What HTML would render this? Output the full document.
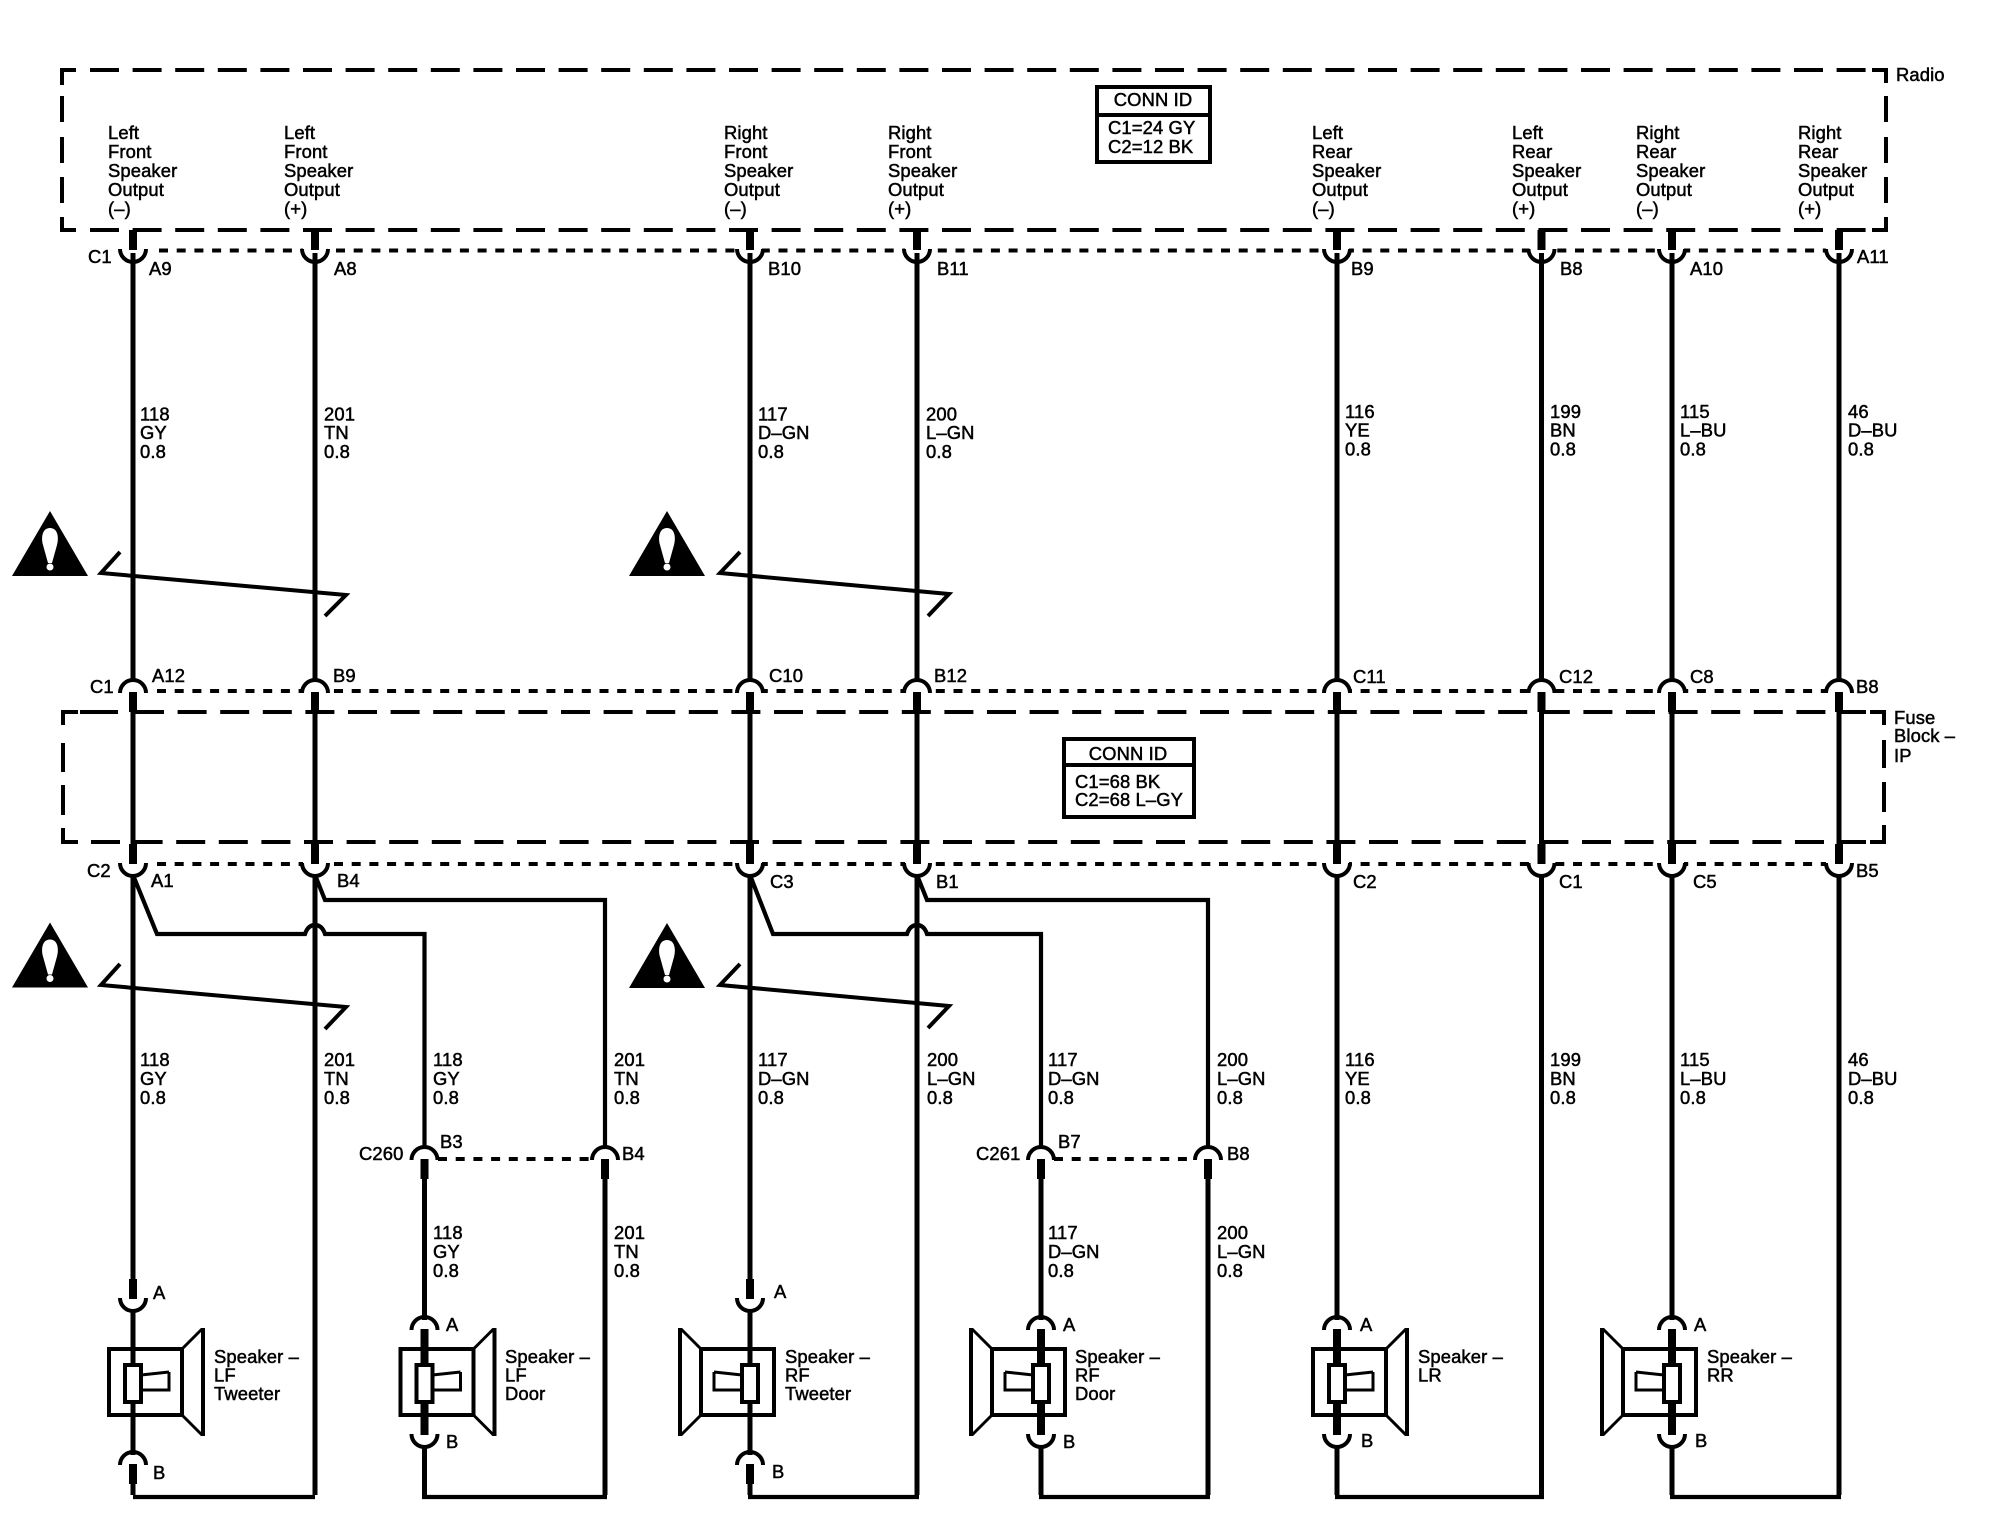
<!DOCTYPE html>
<html><head><meta charset="utf-8"><style>
html,body{margin:0;padding:0;background:#fff}
svg{display:block}
text{font-family:"Liberation Sans",sans-serif;font-size:18.4px;fill:#000;stroke:#000;stroke-width:.5px;letter-spacing:.12px}
.w{fill:none;stroke:#000;stroke-width:5}
.b{fill:none;stroke:#000;stroke-width:4.2;stroke-linejoin:miter}
.d{fill:none;stroke:#000;stroke-width:4;stroke-dasharray:29 13.6}
.s{fill:none;stroke:#000;stroke-width:4;stroke-dasharray:9 8.7}
.a{fill:none;stroke:#000;stroke-width:4}
.t{fill:none;stroke:#000;stroke-width:3}
</style></head><body>
<svg xmlns="http://www.w3.org/2000/svg" width="2000" height="1536" viewBox="0 0 2000 1536">
<defs>
<g id="cup"><rect x="-12" y="-3" width="24" height="6" fill="#fff"/><path class="a" d="M-13 -1A13 13 0 0 0 13 -1"/><rect x="-4" y="-20" width="8" height="20"/></g>
<g id="cap"><rect x="-12" y="-3" width="24" height="6" fill="#fff"/><path class="a" d="M-13 1A13 13 0 0 1 13 1"/><rect x="-4" y="0" width="8" height="20"/></g>
<g id="col">
<path class="w" d="M0 230V681M0 712V844M0 876V890"/>
<use href="#cup" y="250"/>
<use href="#cap" y="692"/>
<use href="#cup" y="864"/>
</g>
<g id="spk">
<rect class="a" x="-24" y="1349" width="73" height="66"/>
<path class="t" d="M49 1349L69 1329M49 1415L69 1435"/>
<path class="a" d="M70 1328V1436"/>
<path class="t" d="M8 1375L36 1372"/>
<path class="t" d="M36 1372V1390H8"/>
</g>
<g id="core"><rect x="-8" y="1365" width="16" height="37" fill="#fff" stroke="#000" stroke-width="4"/></g>
<g id="tri"><path d="M50 511L88 576H12Z"/><path fill="#fff" d="M50 528C42 528 41 538 43 545L48 563H52L57 545C59 538 58 528 50 528Z"/><circle cx="50" cy="567" r="3.5" fill="#fff"/></g>
</defs>

<!-- Radio box -->
<path class="a" d="M76 70H62V85M62 96V122M62 137V163M62 177V203M62 217V230H76M1872 70H1886V83M1886 96V122M1886 137V163M1886 177V203M1886 217V230H1872"/>
<path class="d" d="M90 70H1866"/>
<path class="d" d="M90 230H1866"/>

<!-- Fuse block box -->
<path class="a" d="M78 712H63V725M63 743V772M63 785V815M63 828V842H78M1870 712H1884V725M1884 740V768M1884 782V812M1884 825V842H1870"/>
<path class="a" d="M80 712H118"/>
<path class="d" d="M135 712H1866"/>
<path class="d" d="M91 842H1866"/>

<!-- connector dashes -->
<path class="s" d="M159 250.5H1826"/>
<path class="s" d="M157 691H1826"/>
<path class="s" d="M157 864H1826"/>
<path class="s" d="M438 1159H592"/>
<path class="s" d="M1054 1159H1195"/>

<!-- columns -->
<use href="#col" x="133"/><use href="#col" x="315"/><use href="#col" x="750"/><use href="#col" x="917"/>
<use href="#col" x="1337"/><use href="#col" x="1541.5"/><use href="#col" x="1672"/><use href="#col" x="1839"/>

<!-- lower wires -->
<path class="w" d="M133 876V1282M133 1312V1455M133 1480V1495M315 876V1495"/>
<path class="b" d="M133 1497H315"/>
<path class="b" d="M133 875L157 934H305Q308 925 315 925Q322 925 325 934H424.5V1148"/>
<path class="b" d="M315 875L325 900H605V1148"/>
<path class="w" d="M424.5 1175V1320M424.5 1447V1495M605 1175V1495"/>
<path class="b" d="M422 1497H607"/>

<path class="w" d="M750 876V1282M750 1312V1455M750 1480V1495M917 876V1495"/>
<path class="b" d="M748 1497H919"/>
<path class="b" d="M750 875L773 934H907Q910 925 917 925Q924 925 927 934H1041V1148"/>
<path class="b" d="M917 875L927 900H1208V1148"/>
<path class="w" d="M1041 1175V1320M1041 1447V1495M1208 1175V1495"/>
<path class="b" d="M1039 1497H1210"/>

<path class="w" d="M1337 876V1320M1337 1447V1495M1541.5 876V1495"/>
<path class="b" d="M1335 1497H1544"/>
<path class="w" d="M1672 876V1320M1672 1447V1495M1839 876V1495"/>
<path class="b" d="M1670 1497H1841"/>

<!-- thick door segments -->
<rect x="420.5" y="1329" width="8" height="106"/>
<rect x="1037" y="1329" width="8" height="106"/>
<rect x="1333" y="1329" width="8" height="106"/>
<rect x="1668" y="1329" width="8" height="106"/>

<!-- C260/C261 -->
<use href="#cap" x="424.5" y="1159"/><use href="#cap" x="605" y="1159"/>
<use href="#cap" x="1041" y="1159"/><use href="#cap" x="1208" y="1159"/>

<!-- speaker connectors -->
<use href="#cup" x="133" y="1299"/><use href="#cap" x="133" y="1464"/>
<use href="#cup" x="750" y="1299"/><use href="#cap" x="750" y="1464"/>
<path class="a" d="M411.5 1330A13 13 0 0 1 437.5 1330M411.5 1434A13 13 0 0 0 437.5 1434"/>
<path class="a" d="M1028 1330A13 13 0 0 1 1054 1330M1028 1434A13 13 0 0 0 1054 1434"/>
<path class="a" d="M1324 1330A13 13 0 0 1 1350 1330M1324 1434A13 13 0 0 0 1350 1434"/>
<path class="a" d="M1659 1330A13 13 0 0 1 1685 1330M1659 1434A13 13 0 0 0 1685 1434"/>

<!-- speakers -->
<g transform="translate(133,0)"><use href="#spk"/><use href="#core"/></g>
<g transform="translate(424.5,0)"><use href="#spk"/><use href="#core"/></g>
<g transform="translate(750,0) scale(-1,1)"><use href="#spk"/><use href="#core"/></g>
<g transform="translate(1041,0) scale(-1,1)"><use href="#spk"/><use href="#core"/></g>
<g transform="translate(1337,0)"><use href="#spk"/><use href="#core"/></g>
<g transform="translate(1672,0) scale(-1,1)"><use href="#spk"/><use href="#core"/></g>

<!-- warnings and break lines -->
<use href="#tri"/><use href="#tri" x="617"/><use href="#tri" y="411.5"/><use href="#tri" x="617" y="412"/>
<path class="a" d="M120 552L101 573L346 595L325 616"/>
<path class="a" d="M740 552L720 573L949 594L928 616"/>
<path class="a" d="M120 964L101 985L346 1007L325 1029"/>
<path class="a" d="M740 964L720 985L949 1006L928 1028"/>

<!-- conn id boxes -->
<rect class="a" x="1097" y="87" width="113" height="75" fill="#fff"/><path class="a" d="M1097 115H1210"/>
<text x="1153" y="106" text-anchor="middle">CONN ID</text>
<text x="1108" y="134">C1=24 GY</text><text x="1108" y="153">C2=12 BK</text>
<rect class="a" x="1064" y="739" width="130" height="78" fill="#fff"/><path class="a" d="M1064 765H1194"/>
<text x="1128" y="760" text-anchor="middle">CONN ID</text>
<text x="1075" y="788">C1=68 BK</text><text x="1075" y="806">C2=68 L–GY</text>

<!-- module titles -->
<text x="1896" y="81">Radio</text>
<text x="1894" y="724">Fuse</text><text x="1894" y="742">Block –</text><text x="1894" y="762">IP</text>

<!-- outputs -->
<text x="108" y="139">Left<tspan x="108" dy="19">Front</tspan><tspan x="108" dy="19">Speaker</tspan><tspan x="108" dy="19">Output</tspan><tspan x="108" dy="19">(–)</tspan></text>
<text x="284" y="139">Left<tspan x="284" dy="19">Front</tspan><tspan x="284" dy="19">Speaker</tspan><tspan x="284" dy="19">Output</tspan><tspan x="284" dy="19">(+)</tspan></text>
<text x="724" y="139">Right<tspan x="724" dy="19">Front</tspan><tspan x="724" dy="19">Speaker</tspan><tspan x="724" dy="19">Output</tspan><tspan x="724" dy="19">(–)</tspan></text>
<text x="888" y="139">Right<tspan x="888" dy="19">Front</tspan><tspan x="888" dy="19">Speaker</tspan><tspan x="888" dy="19">Output</tspan><tspan x="888" dy="19">(+)</tspan></text>
<text x="1312" y="139">Left<tspan x="1312" dy="19">Rear</tspan><tspan x="1312" dy="19">Speaker</tspan><tspan x="1312" dy="19">Output</tspan><tspan x="1312" dy="19">(–)</tspan></text>
<text x="1512" y="139">Left<tspan x="1512" dy="19">Rear</tspan><tspan x="1512" dy="19">Speaker</tspan><tspan x="1512" dy="19">Output</tspan><tspan x="1512" dy="19">(+)</tspan></text>
<text x="1636" y="139">Right<tspan x="1636" dy="19">Rear</tspan><tspan x="1636" dy="19">Speaker</tspan><tspan x="1636" dy="19">Output</tspan><tspan x="1636" dy="19">(–)</tspan></text>
<text x="1798" y="139">Right<tspan x="1798" dy="19">Rear</tspan><tspan x="1798" dy="19">Speaker</tspan><tspan x="1798" dy="19">Output</tspan><tspan x="1798" dy="19">(+)</tspan></text>

<!-- pin labels -->
<text x="88" y="263">C1</text><text x="149" y="275">A9</text><text x="334" y="275">A8</text><text x="768" y="275">B10</text><text x="937" y="275">B11</text><text x="1351" y="275">B9</text><text x="1560" y="275">B8</text><text x="1690" y="275">A10</text><text x="1857" y="263">A11</text>
<text x="90" y="693">C1</text><text x="152" y="682">A12</text><text x="333" y="682">B9</text><text x="769" y="682">C10</text><text x="934" y="682">B12</text><text x="1353" y="683">C11</text><text x="1559" y="683">C12</text><text x="1690" y="683">C8</text><text x="1856" y="693">B8</text>
<text x="87" y="877">C2</text><text x="151" y="887">A1</text><text x="337" y="887">B4</text><text x="770" y="888">C3</text><text x="936" y="888">B1</text><text x="1353" y="888">C2</text><text x="1559" y="888">C1</text><text x="1693" y="888">C5</text><text x="1856" y="877">B5</text>
<text x="359" y="1160">C260</text><text x="440" y="1148">B3</text><text x="622" y="1160">B4</text>
<text x="976" y="1160">C261</text><text x="1058" y="1148">B7</text><text x="1227" y="1160">B8</text>
<text x="153" y="1299">A</text><text x="153" y="1479">B</text>
<text x="446" y="1331">A</text><text x="446" y="1448">B</text>
<text x="774" y="1298">A</text><text x="772" y="1478">B</text>
<text x="1063" y="1331">A</text><text x="1063" y="1448">B</text>
<text x="1360" y="1331">A</text><text x="1361" y="1447">B</text>
<text x="1694" y="1331">A</text><text x="1695" y="1447">B</text>

<!-- wire labels row 1 -->
<text x="140" y="420.5">118<tspan x="140" dy="18.7">GY</tspan><tspan x="140" dy="18.7">0.8</tspan></text>
<text x="324" y="420.5">201<tspan x="324" dy="18.7">TN</tspan><tspan x="324" dy="18.7">0.8</tspan></text>
<text x="758" y="420.5">117<tspan x="758" dy="18.7">D–GN</tspan><tspan x="758" dy="18.7">0.8</tspan></text>
<text x="926" y="420.5">200<tspan x="926" dy="18.7">L–GN</tspan><tspan x="926" dy="18.7">0.8</tspan></text>
<text x="1345" y="418">116<tspan x="1345" dy="18.7">YE</tspan><tspan x="1345" dy="18.7">0.8</tspan></text>
<text x="1550" y="418">199<tspan x="1550" dy="18.7">BN</tspan><tspan x="1550" dy="18.7">0.8</tspan></text>
<text x="1680" y="418">115<tspan x="1680" dy="18.7">L–BU</tspan><tspan x="1680" dy="18.7">0.8</tspan></text>
<text x="1848" y="418">46<tspan x="1848" dy="18.7">D–BU</tspan><tspan x="1848" dy="18.7">0.8</tspan></text>

<!-- wire labels row 2 -->
<text x="140" y="1066">118<tspan x="140" dy="19">GY</tspan><tspan x="140" dy="19">0.8</tspan></text>
<text x="324" y="1066">201<tspan x="324" dy="19">TN</tspan><tspan x="324" dy="19">0.8</tspan></text>
<text x="433" y="1066">118<tspan x="433" dy="19">GY</tspan><tspan x="433" dy="19">0.8</tspan></text>
<text x="614" y="1066">201<tspan x="614" dy="19">TN</tspan><tspan x="614" dy="19">0.8</tspan></text>
<text x="758" y="1066">117<tspan x="758" dy="19">D–GN</tspan><tspan x="758" dy="19">0.8</tspan></text>
<text x="927" y="1066">200<tspan x="927" dy="19">L–GN</tspan><tspan x="927" dy="19">0.8</tspan></text>
<text x="1048" y="1066">117<tspan x="1048" dy="19">D–GN</tspan><tspan x="1048" dy="19">0.8</tspan></text>
<text x="1217" y="1066">200<tspan x="1217" dy="19">L–GN</tspan><tspan x="1217" dy="19">0.8</tspan></text>
<text x="1345" y="1066">116<tspan x="1345" dy="19">YE</tspan><tspan x="1345" dy="19">0.8</tspan></text>
<text x="1550" y="1066">199<tspan x="1550" dy="19">BN</tspan><tspan x="1550" dy="19">0.8</tspan></text>
<text x="1680" y="1066">115<tspan x="1680" dy="19">L–BU</tspan><tspan x="1680" dy="19">0.8</tspan></text>
<text x="1848" y="1066">46<tspan x="1848" dy="19">D–BU</tspan><tspan x="1848" dy="19">0.8</tspan></text>

<!-- wire labels row 3 -->
<text x="433" y="1239">118<tspan x="433" dy="19">GY</tspan><tspan x="433" dy="19">0.8</tspan></text>
<text x="614" y="1239">201<tspan x="614" dy="19">TN</tspan><tspan x="614" dy="19">0.8</tspan></text>
<text x="1048" y="1239">117<tspan x="1048" dy="19">D–GN</tspan><tspan x="1048" dy="19">0.8</tspan></text>
<text x="1217" y="1239">200<tspan x="1217" dy="19">L–GN</tspan><tspan x="1217" dy="19">0.8</tspan></text>

<!-- speaker names -->
<text x="214" y="1363">Speaker –<tspan x="214" dy="18.5">LF</tspan><tspan x="214" dy="18.5">Tweeter</tspan></text>
<text x="505" y="1363">Speaker –<tspan x="505" dy="18.5">LF</tspan><tspan x="505" dy="18.5">Door</tspan></text>
<text x="785" y="1363">Speaker –<tspan x="785" dy="18.5">RF</tspan><tspan x="785" dy="18.5">Tweeter</tspan></text>
<text x="1075" y="1363">Speaker –<tspan x="1075" dy="18.5">RF</tspan><tspan x="1075" dy="18.5">Door</tspan></text>
<text x="1418" y="1363">Speaker –<tspan x="1418" dy="18.5">LR</tspan></text>
<text x="1707" y="1363">Speaker –<tspan x="1707" dy="18.5">RR</tspan></text>
</svg>
</body></html>
